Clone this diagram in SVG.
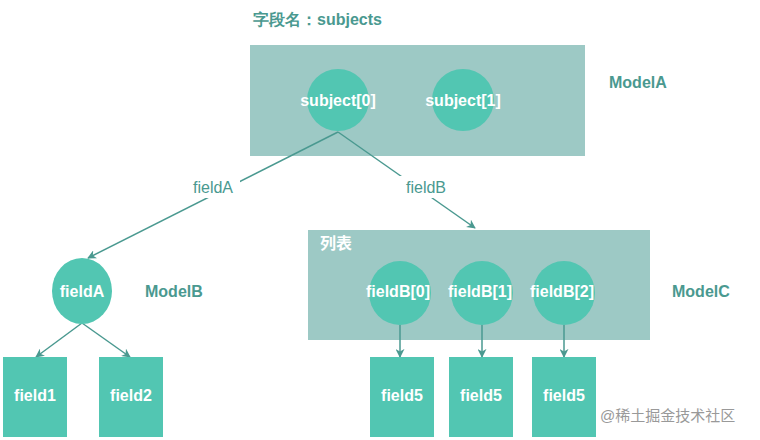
<svg xmlns="http://www.w3.org/2000/svg" width="760" height="440" viewBox="0 0 760 440">
<defs>
<marker id="ah" viewBox="0 0 10 10" refX="9" refY="5" markerWidth="9" markerHeight="9" orient="auto-start-reverse" markerUnits="userSpaceOnUse"><path d="M0,0 L10,5 L0,10 L3,5 z" fill="#4a9990"/></marker>
<style>
.box{fill:#9dc9c5}
.n{fill:#52c6b2}
.w{fill:#fff;font:bold 16px "Liberation Sans",Arial,sans-serif;text-anchor:middle}
.t{fill:#4a9990;font:bold 16px "Liberation Sans",Arial,sans-serif}
.l{fill:#4a9990;font:16px "Liberation Sans",Arial,sans-serif;text-anchor:middle}
.c{stroke:#4a9990;stroke-width:1.5;fill:none;marker-end:url(#ah)}
</style>
</defs>
<rect width="760" height="440" fill="#fff"/>
<text class="t" x="253" y="25" font-family="Liberation Sans, Noto Sans CJK SC, sans-serif">字段名：subjects</text>
<g id="modelA"><rect class="box" x="250" y="45" width="335" height="111"/><text class="t" x="609" y="88">ModelA</text></g>
<g id="listC"><rect class="box" x="308" y="230" width="342" height="110"/><text x="320" y="249" style="fill:#fff;font:bold 16px 'Liberation Sans','Noto Sans CJK SC',sans-serif">列表</text><text class="t" x="672" y="297">ModelC</text></g>
<g id="connectors">
<line class="c" x1="338" y1="132" x2="88" y2="258"/>
<line class="c" x1="338" y1="132" x2="475" y2="228"/>
<line class="c" x1="82" y1="323" x2="36" y2="357"/>
<line class="c" x1="82" y1="323" x2="130" y2="357"/>
<line class="c" x1="400" y1="325" x2="400" y2="357"/>
<line class="c" x1="482" y1="325" x2="482" y2="357"/>
<line class="c" x1="564" y1="325" x2="564" y2="357"/>
<rect x="186" y="176" width="54" height="22" fill="#fff"/>
<text class="l" x="213" y="193">fieldA</text>
<rect x="398" y="176" width="56" height="22" fill="#fff"/>
<text class="l" x="426" y="193">fieldB</text>
</g>
<g id="s0"><circle class="n" cx="338" cy="100" r="31"/><text class="w" x="338" y="106">subject[0]</text></g>
<g id="s1"><circle class="n" cx="463" cy="100" r="31"/><text class="w" x="463" y="106">subject[1]</text></g>
<g id="fA"><ellipse class="n" cx="82" cy="291" rx="30" ry="33"/><text class="w" x="82" y="297">fieldA</text><text class="t" x="145" y="297">ModelB</text></g>
<g id="b0"><ellipse class="n" cx="400" cy="293" rx="31" ry="32"/><text class="w" x="398" y="297">fieldB[0]</text></g>
<g id="b1"><ellipse class="n" cx="482" cy="293" rx="31" ry="32"/><text class="w" x="480" y="297">fieldB[1]</text></g>
<g id="b2"><ellipse class="n" cx="564" cy="293" rx="31" ry="32"/><text class="w" x="562" y="297">fieldB[2]</text></g>
<g id="f1"><rect class="n" x="3" y="357" width="64" height="80"/><text class="w" x="35" y="401">field1</text></g>
<g id="f2"><rect class="n" x="99" y="357" width="64" height="80"/><text class="w" x="131" y="401">field2</text></g>
<g id="f5a"><rect class="n" x="370" y="357" width="64" height="80"/><text class="w" x="402" y="401">field5</text></g>
<g id="f5b"><rect class="n" x="449" y="357" width="64" height="80"/><text class="w" x="481" y="401">field5</text></g>
<g id="f5c"><rect class="n" x="532" y="357" width="64" height="80"/><text class="w" x="564" y="401">field5</text></g>
<text x="600" y="421" style="fill:#999;font:15px 'Liberation Sans','Noto Sans CJK SC',sans-serif">@稀土掘金技术社区</text>
</svg>
